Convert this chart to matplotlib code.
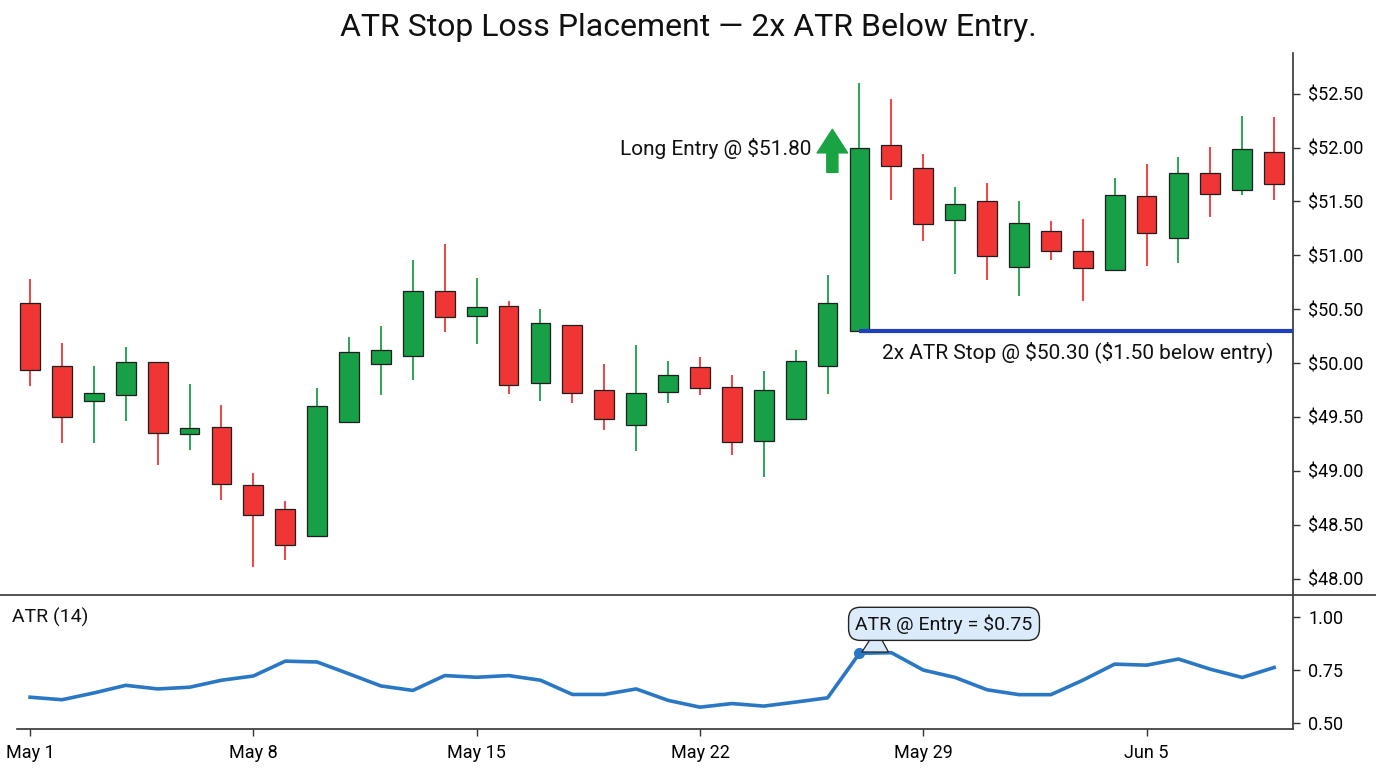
import matplotlib
matplotlib.use("Agg")
import matplotlib.pyplot as plt
import matplotlib.dates as mdates
from matplotlib.lines import Line2D
import numpy as np
import pandas as pd

plt.rcParams['font.family'] = ['Roboto', 'DejaVu Sans']

# ---------------- data ----------------
dates = pd.date_range("2024-05-01", periods=40, freq="D")
opens = [50.56, 49.97, 49.65, 49.70, 50.01, 49.34, 49.41, 48.87, 48.65, 48.40,
         49.45, 49.99, 50.07, 50.67, 50.44, 50.53, 49.82, 50.35, 49.75, 49.43,
         49.73, 49.96, 49.78, 49.28, 49.48, 49.97, 50.30, 52.02, 51.81, 51.33,
         51.50, 50.89, 51.23, 51.04, 50.86, 51.55, 51.16, 51.76, 51.61, 51.96]
highs = [50.78, 50.19, 49.97, 50.15, 50.01, 49.81, 49.61, 48.98, 48.72, 49.77,
         50.24, 50.34, 50.96, 51.11, 50.79, 50.58, 50.50, 50.35, 49.99, 50.17,
         50.02, 50.06, 49.89, 49.93, 50.12, 50.82, 52.60, 52.45, 51.94, 51.63,
         51.67, 51.50, 51.32, 51.34, 51.72, 51.85, 51.91, 52.01, 52.29, 52.28]
lows = [49.79, 49.26, 49.26, 49.46, 49.05, 49.19, 48.73, 48.11, 48.17, 48.40,
        49.45, 49.70, 49.84, 50.29, 50.18, 49.71, 49.65, 49.63, 49.38, 49.18,
        49.63, 49.70, 49.15, 48.94, 49.48, 49.71, 50.30, 51.51, 51.13, 50.83,
        50.77, 50.62, 50.96, 50.58, 50.86, 50.90, 50.93, 51.36, 51.56, 51.51]
closes = [49.94, 49.50, 49.72, 50.01, 49.35, 49.40, 48.88, 48.59, 48.31, 49.60,
          50.10, 50.12, 50.67, 50.43, 50.52, 49.80, 50.37, 49.72, 49.48, 49.72,
          49.89, 49.77, 49.27, 49.75, 50.02, 50.56, 52.00, 51.83, 51.29, 51.48,
          50.99, 51.30, 51.04, 50.88, 51.56, 51.21, 51.76, 51.57, 51.99, 51.66]
atr = [0.620, 0.608, 0.640, 0.676, 0.659, 0.667, 0.700, 0.720, 0.790, 0.786,
       0.730, 0.673, 0.652, 0.722, 0.714, 0.722, 0.700, 0.633, 0.633, 0.659,
       0.605, 0.573, 0.590, 0.578, 0.597, 0.617, 0.827, 0.830, 0.748, 0.713,
       0.655, 0.632, 0.632, 0.700, 0.776, 0.771, 0.800, 0.752, 0.713, 0.760]

entry_idx = 26
entry_price = 51.80
stop_price = 50.30
atr_at_entry_label = 0.75

price_ticks = [48.0, 48.5, 49.0, 49.5, 50.0, 50.5, 51.0, 51.5, 52.0, 52.5]
atr_ticks = [0.50, 0.75, 1.00]
date_ticks = pd.to_datetime(["2024-05-01", "2024-05-08", "2024-05-15",
                             "2024-05-22", "2024-05-29", "2024-06-05"])

title = "ATR Stop Loss Placement — 2x ATR Below Entry."

# ---------------- figure ----------------
W, H = 1376, 768
fig = plt.figure(figsize=(W / 100, H / 100), dpi=100)

def fx(px):
    return px / W

def fy(py):
    return 1 - py / H

left, right = fx(17), fx(1293)
ax = fig.add_axes([left, fy(595), right - left, fy(53) - fy(595)])
ax2 = fig.add_axes([left, fy(729), right - left, fy(595) - fy(729)], sharex=ax)

red = "#f03535"
green = "#17a046"
edge = "#1e1e1e"

x = mdates.date2num(dates)
o = np.array(opens); c = np.array(closes)
hi = np.array(highs); lo = np.array(lows)
up = c >= o
cols = np.where(up, green, red)

ax.vlines(x, lo, hi, colors=cols, linewidth=1.3, zorder=2)
ax.bar(x, np.abs(c - o), bottom=np.minimum(o, c), width=0.62,
       color=cols, edgecolor=edge, linewidth=0.9, zorder=3)

x0 = x[0] - 0.41
x1 = x0 + 40.0
ax.set_xlim(x0, x1)
ax.set_ylim(47.848, 52.878)

# stop line
ex = x[entry_idx]
ax.hlines(stop_price, ex, x1, colors="#1f3fbf", linewidth=3, zorder=4)
ax.text(ex + 0.7, 50.10,
        f"2x ATR Stop @ \\${stop_price:.2f} (\\${entry_price - stop_price:.2f} below entry)",
        fontsize=15, va="center", ha="left", color="#111")

# entry annotation
ax.annotate("", xy=(ex - 0.85, 52.17), xytext=(ex - 0.85, 51.77),
            arrowprops=dict(arrowstyle="simple,head_width=1.1,head_length=0.85,tail_width=0.4",
                            color="#1aa343", mutation_scale=20, shrinkA=0, shrinkB=0))
ax.text(ex - 1.5, 51.99, f"Long Entry @ \\${entry_price:.2f}", fontsize=15,
        ha="right", va="center", color="#111")

# axes styling main
for s in ["left", "top", "bottom"]:
    ax.spines[s].set_visible(False)
ax.spines["right"].set_color("#333")
ax.spines["right"].set_linewidth(1.2)
ax.yaxis.tick_right()
ax.set_yticks(price_ticks)
ax.set_yticklabels([f"\\${v:.2f}" for v in price_ticks])
ax.tick_params(axis="y", labelsize=13, length=5, width=1, color="#333", pad=6)
ax.tick_params(axis="x", which="both", bottom=False, labelbottom=False)

# ATR panel
ax2.plot(x, atr, color="#2a78c3", linewidth=2.6, zorder=3)
ax2.plot(x[entry_idx], atr[entry_idx], "o", color="#2a78c3", markersize=7, zorder=4)
ax2.annotate(f"ATR @ Entry = \\${atr_at_entry_label:.2f}",
             xy=(x[entry_idx], atr[entry_idx]), xytext=(ex + 2.65, 0.966),
             fontsize=14, ha="center", va="center", color="#111",
             bbox=dict(boxstyle="round,pad=0.35,rounding_size=0.6", fc="#dcebfb", ec="#222", lw=1),
             arrowprops=dict(arrowstyle="wedge,tail_width=1.3", fc="#dcebfb", ec="#222", lw=0.9,
                             shrinkA=0, shrinkB=2, relpos=(0.3, 0.35)),
             zorder=5)
ax2.set_ylim(0.470, 1.102)
ax2.set_yticks(atr_ticks)
ax2.set_yticklabels([f"{v:.2f}" for v in atr_ticks])
ax2.yaxis.tick_right()
for s in ["left", "top"]:
    ax2.spines[s].set_visible(False)
for s in ["right", "bottom"]:
    ax2.spines[s].set_color("#333")
    ax2.spines[s].set_linewidth(1.2)
ax2.set_xticks(mdates.date2num(date_ticks))
ax2.set_xticklabels([d.strftime("%b %-d") for d in date_ticks])
ax2.tick_params(axis="both", labelsize=13, length=5, width=1, color="#333", pad=6)

fig.text(fx(12), fy(617), "ATR (14)", fontsize=14, ha="left", va="center", color="#111")

# separator line
fig.add_artist(Line2D([0, 1], [fy(595), fy(595)], color="#444", linewidth=1.3,
                      transform=fig.transFigure))

fig.text(0.5, fy(28), title, fontsize=23, ha="center", va="center", color="#111")

fig.savefig("out.png", dpi=100, facecolor="white")
